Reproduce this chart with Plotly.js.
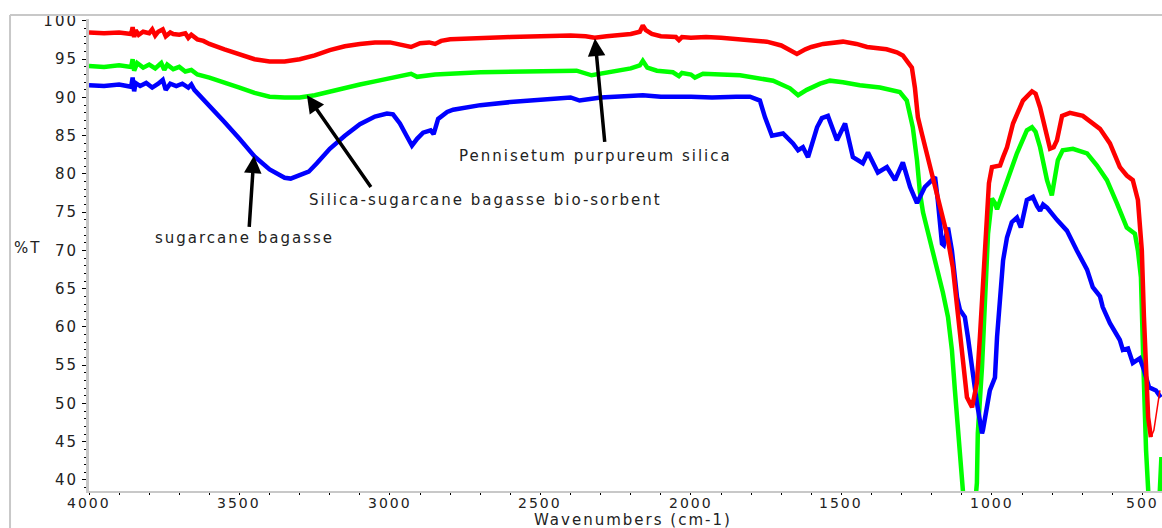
<!DOCTYPE html>
<html>
<head>
<meta charset="utf-8">
<script src="https://cdn.plot.ly/plotly-3.0.1.min.js"></script>
<style>
html,body{margin:0;padding:0;background:#fff;}
#chart{width:1162px;height:528px;}
.main-svg text{letter-spacing:2px;}
</style>
</head>
<body>
<div id="chart"></div>
<script>
// Pennisetum purpureum silica (red)
const redWn = [4000,3950,3900,3860,3855,3850,3845,3835,3820,3800,3790,3780,3770,3755,3745,3730,3720,3700,3680,3670,3660,3640,3620,3600,3550,3500,3450,3400,3350,3300,3250,3200,3150,3100,3050,3000,2960,2930,2900,2870,2850,2830,2800,2700,2600,2500,2400,2350,2320,2280,2200,2170,2160,2150,2130,2100,2050,2040,2030,2000,1950,1900,1860,1800,1748,1700,1681,1648,1620,1600,1561,1495,1450,1415,1350,1316,1296,1266,1256,1246,1233,1216,1196,1173,1150,1130,1116,1100,1083,1066,1050,1040,1030,1017,1010,1000,985,973,963,950,930,897,867,855,840,807,795,784,767,741,698,665,641,608,575,552,532,515,502,495,488,481,472,462,442];
const redT  = [98.5,98.4,98.5,98.3,99.2,97.9,98.8,98.2,98.6,98.4,98.9,98.1,98.6,98.9,98.0,98.5,98.3,98.2,98.4,97.8,98.2,97.6,97.4,97.0,96.3,95.6,95.0,94.7,94.7,95.0,95.5,96.2,96.7,97.0,97.2,97.2,96.9,96.6,97.1,97.2,97.0,97.4,97.6,97.8,97.9,98.0,98.1,98.0,97.8,98.0,98.3,98.6,99.4,98.8,98.3,98.0,97.9,97.5,97.9,97.8,97.9,97.8,97.7,97.5,97.3,96.8,96.4,95.7,96.3,96.6,97.0,97.3,97.0,96.6,96.3,95.9,95.5,93.9,91.3,87.4,85.3,82.7,79.2,75.6,72.2,67.8,63.1,57.0,50.8,49.5,52.7,58.7,65.7,72.2,78.8,80.9,81.0,81.1,82.2,83.5,86.6,89.6,90.8,90.5,88.7,83.3,83.5,84.4,87.6,88.0,87.6,86.6,85.9,84.0,80.9,79.8,79.2,76.6,70.0,61.3,54.8,48.2,45.6,46.5,51.7];

// Silica-sugarcane bagasse bio-sorbent (green)
const greenWn = [4000,3950,3900,3860,3855,3850,3840,3820,3800,3780,3760,3750,3740,3720,3700,3680,3660,3640,3600,3550,3500,3450,3400,3350,3300,3250,3200,3150,3100,3050,3000,2950,2930,2910,2850,2700,2500,2380,2330,2300,2200,2170,2160,2145,2113,2060,2040,2030,2000,1987,1960,1900,1837,1727,1671,1644,1615,1571,1538,1495,1439,1372,1306,1283,1263,1249,1239,1229,1206,1183,1163,1146,1133,1123,1113,1100,1075,1050,1047,1033,1023,1013,1000,990,983,965,950,917,884,867,855,840,817,801,781,765,731,684,651,618,585,552,525,515,505,500,495,488,480,455,437];
const greenT  = [94.1,94.0,94.2,94.0,95.0,93.5,94.5,93.9,94.3,93.8,94.5,93.6,94.3,93.7,94.0,93.4,93.6,93.0,92.6,92.0,91.3,90.6,90.1,90.0,90.0,90.3,90.8,91.3,91.7,92.1,92.5,92.8,93.1,92.7,93.0,93.3,93.4,93.5,92.9,93.1,93.8,94.2,94.8,93.9,93.5,93.3,92.8,93.2,93.0,92.6,93.1,93.0,92.9,92.2,91.2,90.3,91.0,91.8,92.2,92.0,91.6,91.3,90.7,89.6,86.1,81.8,77.5,75.0,71.5,68.0,64.5,61.3,57.0,51.7,46.1,39.6,28.0,39.6,46.1,54.8,63.5,72.2,76.8,76.2,75.4,77.5,78.8,82.7,85.7,86.1,85.5,83.5,79.2,77.2,81.8,83.1,83.3,82.7,81.1,79.2,76.2,73.0,72.2,70.0,66.5,61.3,52.7,43.9,38.0,28.0,43.0];

// sugarcane bagasse (blue)
const blueWn = [4000,3950,3900,3860,3855,3850,3845,3830,3810,3790,3770,3755,3745,3730,3710,3690,3670,3660,3650,3640,3620,3600,3550,3500,3450,3400,3350,3330,3300,3270,3243,3200,3150,3100,3050,3010,2990,2967,2945,2927,2910,2890,2865,2855,2840,2810,2790,2700,2600,2535,2400,2370,2340,2300,2160,2100,2000,1930,1850,1804,1771,1754,1731,1694,1661,1644,1628,1611,1581,1565,1545,1515,1488,1462,1429,1412,1379,1349,1322,1296,1272,1249,1223,1196,1189,1180,1166,1160,1146,1133,1116,1106,1090,1080,1063,1050,1033,1030,1007,990,983,973,963,950,934,917,904,884,864,850,840,830,817,784,751,718,684,665,641,632,608,575,565,548,532,509,495,478,455,439];
const blueT  = [91.6,91.5,91.7,91.4,92.6,90.8,91.9,91.5,91.9,91.3,91.8,92.3,91.0,91.8,91.5,91.8,91.3,91.7,91.0,90.6,89.8,88.8,86.8,84.6,82.3,80.6,79.5,79.4,79.8,80.3,81.4,83.3,85.0,86.5,87.5,87.9,87.8,86.6,85.0,83.7,84.6,85.4,85.7,85.2,87.2,88.1,88.4,89.0,89.4,89.6,90.0,89.6,89.8,90.0,90.3,90.1,90.1,90.0,90.1,90.1,89.6,87.4,85.0,85.3,84.0,83.1,83.5,82.2,86.1,87.3,87.6,84.4,86.6,82.2,81.4,82.8,80.2,80.9,79.2,81.5,78.3,76.2,78.3,79.2,79.6,76.6,70.9,70.7,73.0,70.0,63.9,62.2,61.3,58.7,53.4,50.1,46.1,46.5,51.7,53.4,58.7,64.8,68.7,71.7,73.7,74.3,73.0,76.6,77.0,75.8,75.2,76.0,75.6,74.0,72.6,70.0,67.5,65.2,64.0,62.6,60.5,58.3,57.0,57.2,55.3,55.9,54.4,52.1,51.7,50.8];

const xTickVals = [4000,3500,3000,2500,2000,1500,1000,500];
const xTickText = ['4000','3500','3000','2500','2000','1500','1000','500'];
const yTickVals = [40,45,50,55,60,65,70,75,80,85,90,95,100];
const xRange = [4000, 435];
const yRange = [38.56, 100.26];

const FONT = {family: 'DejaVu Sans, Arial, sans-serif', size: 15, color: '#222'};
const TICKFONT = {family: 'DejaVu Sans, Arial, sans-serif', size: 14, color: '#222'};

// the red spectrum is drawn thin after its last minimum (as in the source figure)
const redTailStart = redWn.indexOf(472);

const traces = [
  {x: greenWn, y: greenT, mode: 'lines', line: {color: '#00ff00', width: 4.5}, name: 'Silica-sugarcane bagasse bio-sorbent'},
  {x: blueWn, y: blueT, mode: 'lines', line: {color: '#0000ff', width: 4.5}, name: 'sugarcane bagasse'},
  {x: redWn.slice(0, redTailStart + 1), y: redT.slice(0, redTailStart + 1), mode: 'lines', line: {color: '#ff0000', width: 4.5}, name: 'Pennisetum purpureum silica'},
  {x: redWn.slice(redTailStart), y: redT.slice(redTailStart), mode: 'lines', line: {color: '#ff0000', width: 1.5}, name: 'Pennisetum purpureum silica (tail)'}
];

const arrowBase = {xref: 'x', yref: 'y', axref: 'x', ayref: 'y', text: '', showarrow: true,
  arrowhead: 2, arrowsize: 1, arrowwidth: 3.5, arrowcolor: '#000', standoff: 0};

const xTickAnnots = xTickVals.map((v, i) => ({
  xref: 'x', yref: 'paper', x: v, y: -0.0244, xanchor: 'center', yanchor: 'middle',
  text: xTickText[i], showarrow: false, font: TICKFONT, borderpad: 0
}));

const layout = {
  width: 1162, height: 528,
  margin: {l: 89, r: 0, t: 19, b: 37},
  paper_bgcolor: '#fff', plot_bgcolor: '#fff',
  showlegend: false,
  font: FONT,
  xaxis: {
    range: xRange, tickmode: 'array', tickvals: xTickVals, showticklabels: false,
    ticks: 'outside', ticklen: 2, tickwidth: 1, tickcolor: '#000',
    minor: {dtick: 100, tick0: 0, ticks: 'outside', ticklen: 2, tickcolor: '#000', tickwidth: 1},
    showline: true, linecolor: '#c8c8c8', linewidth: 2,
    showgrid: false, zeroline: false
  },
  yaxis: {
    range: yRange, tickmode: 'array', tickvals: yTickVals,
    ticks: 'outside', ticklen: 4, tickwidth: 1, tickcolor: '#000',
    minor: {dtick: 1, tick0: 0, ticks: 'outside', ticklen: 2, tickcolor: '#000', tickwidth: 1},
    showline: true, linecolor: '#c8c8c8', linewidth: 3,
    showgrid: false, zeroline: false, tickfont: FONT, ticklabelstandoff: 1
  },
  shapes: [
    {type: 'line', xref: 'paper', yref: 'paper', x0: -0.0736, x1: 1.0, y0: 1.0085, y1: 1.0085, line: {color: '#c8c8c8', width: 2}},
    {type: 'line', xref: 'paper', yref: 'paper', x0: -0.0736, x1: -0.0736, y0: 1.0085, y1: -0.08, line: {color: '#c8c8c8', width: 2}}
  ],
  annotations: [
    Object.assign({}, arrowBase, {x: 2319, y: 97.7, ax: 2286, ay: 84.0}),
    Object.assign({}, arrowBase, {x: 3276, y: 90.3, ax: 3060, ay: 78.1}),
    Object.assign({}, arrowBase, {x: 3452, y: 82.4, ax: 3468, ay: 72.9}),
    {xref: 'x', yref: 'y', x: 2316, y: 82.4, xanchor: 'center', text: 'Pennisetum purpureum silica', showarrow: false, font: FONT},
    {xref: 'x', yref: 'y', x: 2681, y: 76.6, xanchor: 'center', text: 'Silica-sugarcane bagasse bio-sorbent', showarrow: false, font: FONT},
    {xref: 'x', yref: 'y', x: 3485, y: 71.6, xanchor: 'center', text: 'sugarcane bagasse', showarrow: false, font: FONT},
    {xref: 'paper', yref: 'y', x: -0.057, y: 70.3, xanchor: 'center', text: '%T', showarrow: false, font: FONT},
    {xref: 'paper', yref: 'paper', x: 0.507, y: -0.0614, xanchor: 'center', yanchor: 'middle', text: 'Wavenumbers (cm-1)', showarrow: false, font: FONT, borderpad: 0}
  ].concat(xTickAnnots)
};

Plotly.newPlot('chart', traces, layout, {displayModeBar: false, staticPlot: true});
</script>
</body>
</html>
